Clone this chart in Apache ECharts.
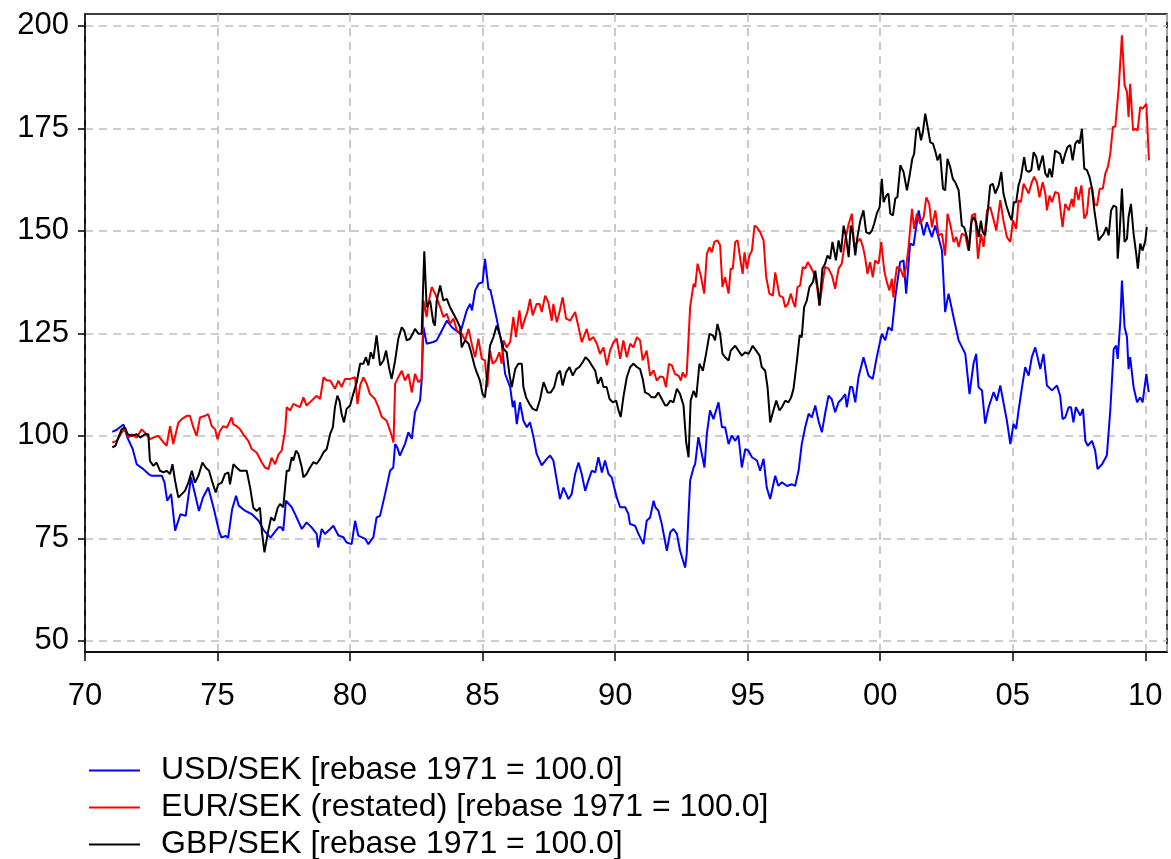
<!DOCTYPE html>
<html>
<head>
<meta charset="utf-8">
<script src="https://cdn.jsdelivr.net/npm/echarts@6/dist/echarts.min.js"></script>
<style>
html,body{margin:0;padding:0;background:#fff;}
#chart{width:1171px;height:859px;}
</style>
</head>
<body>
<div id="chart"></div>
<script>
// ---- data ----
const seriesNames = ["USD/SEK [rebase 1971 = 100.0]", "EUR/SEK (restated) [rebase 1971 = 100.0]", "GBP/SEK [rebase 1971 = 100.0]"];
const yTickValues = [50, 75, 100, 125, 150, 175, 200];

const usdYear = [1971.03,1971.2,1971.45,1971.6,1971.8,1971.95,1972.2,1972.4,1972.5,1972.9,1973.0,1973.1,1973.25,1973.4,1973.6,1973.8,1974.0,1974.3,1974.45,1974.65,1974.85,1975.05,1975.15,1975.3,1975.4,1975.55,1975.7,1975.8,1976.05,1976.3,1976.55,1976.75,1977.0,1977.2,1977.3,1977.4,1977.48,1977.58,1977.8,1977.92,1978.18,1978.36,1978.55,1978.74,1978.8,1978.93,1979.05,1979.25,1979.37,1979.56,1979.75,1979.87,1980.06,1980.19,1980.31,1980.57,1980.69,1980.88,1981.0,1981.13,1981.32,1981.51,1981.63,1981.7,1981.78,1981.88,1982.07,1982.2,1982.33,1982.45,1982.64,1982.7,1982.77,1982.89,1983.14,1983.27,1983.4,1983.65,1983.84,1984.15,1984.4,1984.53,1984.6,1984.72,1984.85,1985.0,1985.09,1985.22,1985.3,1985.41,1985.53,1985.72,1985.85,1986.04,1986.14,1986.2,1986.29,1986.41,1986.54,1986.67,1986.79,1986.92,1987.04,1987.23,1987.42,1987.55,1987.67,1987.8,1987.92,1988.05,1988.24,1988.36,1988.49,1988.62,1988.74,1988.87,1988.99,1989.12,1989.25,1989.37,1989.5,1989.62,1989.75,1989.87,1990.06,1990.19,1990.38,1990.5,1990.56,1990.75,1990.88,1991.07,1991.19,1991.32,1991.45,1991.52,1991.63,1991.76,1991.95,1992.08,1992.2,1992.33,1992.45,1992.58,1992.64,1992.7,1992.83,1992.96,1993.02,1993.14,1993.27,1993.37,1993.46,1993.58,1993.71,1993.9,1994.03,1994.15,1994.28,1994.4,1994.53,1994.65,1994.78,1994.91,1995.03,1995.16,1995.35,1995.47,1995.6,1995.72,1995.85,1996.04,1996.16,1996.29,1996.48,1996.67,1996.79,1996.92,1997.04,1997.17,1997.3,1997.42,1997.55,1997.67,1997.8,1997.92,1998.05,1998.17,1998.3,1998.43,1998.55,1998.68,1998.74,1998.87,1998.95,1999.06,1999.18,1999.37,1999.56,1999.72,1999.87,2000.06,2000.19,2000.31,2000.44,2000.57,2000.75,2000.88,2000.98,2001.13,2001.26,2001.32,2001.45,2001.54,2001.64,2001.76,2001.95,2002.08,2002.33,2002.45,2002.58,2002.77,2002.96,2003.21,2003.37,2003.52,2003.62,2003.71,2003.84,2003.96,2004.09,2004.28,2004.4,2004.53,2004.78,2004.91,2005.03,2005.13,2005.22,2005.35,2005.47,2005.6,2005.72,2005.85,2006.04,2006.16,2006.29,2006.48,2006.67,2006.79,2006.88,2006.98,2007.11,2007.2,2007.29,2007.38,2007.55,2007.65,2007.74,2007.83,2007.99,2008.11,2008.2,2008.37,2008.55,2008.68,2008.81,2008.9,2008.96,2009.06,2009.12,2009.22,2009.31,2009.37,2009.43,2009.56,2009.69,2009.81,2009.9,2010.04,2010.13];
const usdValue = [101,101.5,102.8,99.6,96.8,93.1,91.9,90.7,90.3,90.3,88.6,84.2,85.8,76.9,80.9,80.5,89.9,81.7,85,87.4,82.5,76.9,75.2,75.6,75.2,82.1,85.4,83,81.7,80.9,79.3,76.9,75.2,76.9,77.7,77.7,76.9,84.2,82.6,81,77.3,78.9,77.7,76.1,72.8,77.3,76.1,77.3,78.1,75.7,75.3,74,73.6,79.3,75.7,74.9,73.6,75.3,80.1,80.5,85.8,91.5,92.3,98,97.2,95.2,98,100.9,99.3,105.8,108.6,113.5,126.5,122.5,122.9,123.3,124.9,128.1,126.5,124.9,130.6,132.2,130.6,135.5,137.1,137.5,143.2,135.9,135.5,132.2,128.6,122.5,115.1,111.9,107,108.6,102.9,108.2,103.7,102.1,103.3,99.7,95.6,92.8,94.4,95.2,94,89.1,84.6,87.4,84.6,85.8,90.7,93.5,90.7,86.6,89.1,91.5,91.1,94.8,91.1,94,90.7,89.9,85,82.6,82.6,81,78.5,78.1,76.1,73.6,79.3,80.1,84.2,82.6,81.8,78.5,72,76.5,77.3,76.1,72,69.2,67.9,71.2,89.1,92.3,93.2,99.7,95.6,92.3,100.5,106.2,104.1,108.2,102.1,102.1,98,100.1,98.8,100.1,92.3,96.8,96.4,94.8,94,91.5,94.4,87.4,84.6,90.3,87.8,88.7,87.8,88.2,87.8,91.5,98,102.1,105.4,104.5,107.4,103.7,100.9,105.4,109.8,109,105.8,108.2,109,110.2,107,112,111.9,108.2,114.3,119.2,114.7,113.9,119.2,124.9,123.3,126.5,125.7,133.8,142.4,142.8,134.7,146.9,146.5,149.3,155,152.1,148.9,152.1,148.5,151.3,145.2,130.2,134.7,128.9,123.3,120,110.2,117.6,120,111.9,111.1,103,107,110.7,108.6,112.3,103.7,98,102.9,101.7,106.2,111.9,116.8,114.7,119.2,121.6,116.3,120,112.3,111.1,112.3,109.8,104.1,104.5,107,107,103.3,107,105,106.6,98.8,97.6,98.8,96.4,91.9,93.1,95.2,106.2,121.2,122,118.8,128.1,137.9,126.5,124.1,116.3,119.2,111.9,108.2,109.4,108.2,115.1,110.7];

const eurYear = [1971.03,1971.2,1971.38,1971.5,1971.64,1971.76,1971.95,1972.14,1972.26,1972.45,1972.58,1972.77,1972.96,1973.08,1973.21,1973.33,1973.52,1973.65,1973.84,1973.96,1974.09,1974.21,1974.34,1974.53,1974.65,1974.78,1974.91,1975.0,1975.09,1975.22,1975.35,1975.53,1975.6,1975.72,1975.85,1975.97,1976.16,1976.29,1976.48,1976.67,1976.79,1976.92,1977.04,1977.17,1977.3,1977.42,1977.48,1977.55,1977.61,1977.74,1977.86,1977.99,1978.11,1978.24,1978.36,1978.55,1978.74,1978.87,1979.0,1979.12,1979.25,1979.43,1979.56,1979.68,1979.81,1980.0,1980.19,1980.28,1980.38,1980.5,1980.63,1980.75,1980.94,1981.07,1981.2,1981.38,1981.51,1981.64,1981.7,1981.82,1981.95,1982.07,1982.2,1982.33,1982.45,1982.58,1982.7,1982.77,1982.89,1982.95,1983.08,1983.21,1983.4,1983.52,1983.65,1983.77,1983.9,1984.03,1984.21,1984.34,1984.47,1984.53,1984.62,1984.72,1984.84,1984.97,1985.09,1985.18,1985.28,1985.38,1985.51,1985.63,1985.72,1985.79,1985.91,1986.04,1986.16,1986.26,1986.39,1986.48,1986.6,1986.69,1986.79,1986.89,1987.04,1987.15,1987.23,1987.36,1987.48,1987.61,1987.67,1987.8,1987.9,1988.02,1988.15,1988.3,1988.49,1988.62,1988.74,1988.93,1989.03,1989.18,1989.31,1989.43,1989.56,1989.69,1989.81,1989.94,1990.06,1990.19,1990.31,1990.44,1990.57,1990.69,1990.82,1990.94,1991.04,1991.19,1991.32,1991.45,1991.57,1991.7,1991.82,1991.92,1992.03,1992.14,1992.26,1992.39,1992.48,1992.55,1992.64,1992.7,1992.83,1992.96,1993.02,1993.11,1993.23,1993.36,1993.46,1993.56,1993.65,1993.74,1993.86,1993.96,1994.05,1994.15,1994.2,1994.28,1994.36,1994.44,1994.53,1994.62,1994.72,1994.81,1994.88,1994.97,1995.07,1995.16,1995.26,1995.35,1995.47,1995.6,1995.7,1995.82,1995.95,1996.04,1996.12,1996.2,1996.33,1996.42,1996.52,1996.63,1996.7,1996.79,1996.88,1996.98,1997.08,1997.17,1997.27,1997.38,1997.51,1997.61,1997.71,1997.84,1997.92,1998.05,1998.18,1998.3,1998.43,1998.55,1998.68,1998.81,1998.93,1999.02,1999.12,1999.25,1999.35,1999.43,1999.52,1999.62,1999.72,1999.81,1999.94,2000.04,2000.15,2000.25,2000.35,2000.44,2000.5,2000.56,2000.63,2000.76,2000.88,2000.98,2001.07,2001.2,2001.28,2001.38,2001.51,2001.64,2001.74,2001.85,2001.95,2002.08,2002.2,2002.33,2002.45,2002.54,2002.64,2002.77,2002.87,2002.96,2003.08,2003.21,2003.33,2003.46,2003.58,2003.69,2003.8,2003.9,2004.03,2004.15,2004.25,2004.38,2004.53,2004.65,2004.78,2004.91,2005.01,2005.13,2005.22,2005.31,2005.41,2005.51,2005.6,2005.72,2005.81,2005.91,2006.01,2006.13,2006.23,2006.29,2006.39,2006.48,2006.6,2006.73,2006.88,2006.98,2007.11,2007.23,2007.29,2007.38,2007.48,2007.59,2007.65,2007.7,2007.8,2007.89,2007.99,2008.08,2008.18,2008.28,2008.4,2008.49,2008.59,2008.68,2008.78,2008.87,2009.0,2009.12,2009.22,2009.31,2009.37,2009.43,2009.54,2009.62,2009.71,2009.81,2009.9,2010.04,2010.14];
const eurValue = [98.4,98.8,100.8,101.6,99.6,100.4,99.6,101.6,100.8,99.2,99.6,100,98.4,97.6,102.4,98,103.2,104.1,104.9,104.9,102,100,104.5,104.9,105.3,102.4,101.6,99.2,101.2,102.4,102,104.5,102.8,102.4,101.6,100.4,98.8,96.8,95.9,93.5,92.3,91.9,94.7,93.1,95.5,96.4,96.4,101.3,107,106.2,107.8,107.4,107,109.4,107.4,108.6,109.8,109,114.3,113.5,113.5,111.5,113.5,111.9,113.9,113.9,114.3,107.8,112.3,114.3,112.7,110.2,109,107,104.6,103.7,101.3,98.4,112.7,114.3,115.9,113.5,115.1,110.6,115.1,113.1,113.9,133,129,132.2,136.3,134.7,131.4,129,129.8,127.3,128.6,125.7,124.9,123.3,126.1,125.7,121.6,119.2,123.7,118.8,118.4,111.9,120.8,117.6,118.4,120.4,117.6,123.3,121.6,122.9,129,124.1,130.6,126.1,128.6,130.2,133.4,129.4,132.2,132.2,130.2,134.2,132.6,128.1,132.2,127.7,130.2,133.8,128.6,128.1,130.2,126.5,122.9,126.1,123.3,124.1,122.5,120,121.6,117.2,120.8,122.9,123.7,118.8,123.3,119.2,122.5,121.6,124.1,123.3,118.4,120.8,114.7,116,113.5,114.5,114.3,111.9,117.6,117.2,115.1,114.7,113.5,115.5,114.3,115.1,131.4,137.1,136.3,142,139.1,134.7,144.4,146,144.8,147.3,147.7,146.5,136.3,138.7,138.7,134.7,140.8,140.8,147.3,147.7,143.2,139.5,144.8,140.8,144,145.2,151.3,150.9,149.7,147.7,138.7,134.7,134.2,139.9,137.1,134.2,133.8,131.4,132.2,134.7,133,131.4,136.3,136.7,141.2,140.8,142.4,141.2,139.5,136.7,131.8,137.9,141.2,140.8,139.1,135.9,140.8,142,147.7,151.7,154.2,146.1,147.3,148.1,146.1,143.6,139.5,142.4,138.7,142.8,142,147.3,140.4,137.5,135.5,138.3,133.8,137.9,141.2,140.8,138.7,141.2,146.1,155.4,150.5,154.2,151.7,153.4,158.2,156.6,150.9,155,148.9,149.3,144,154.2,151.7,147.3,148.5,146.1,149.3,148.9,145.2,153.8,154.2,143.2,149.3,146.1,155,155.8,153.4,150.1,157.5,152.5,148.5,147.3,152.6,150.5,157.5,157,161.5,160.3,159.1,161.9,163.2,161.9,158.2,161.9,159.1,155,158.6,157,159.5,159.1,150.9,156.6,155,157.8,155.8,160.7,157.5,161.1,161.1,153,154.2,160.3,160.7,156.6,156.2,160.3,160.3,163.9,165.6,168.8,175.4,175.4,185.1,197.7,185.5,183.9,177.8,185.9,174.5,174.9,174.5,180.2,179.8,181,167.2];

const gbpYear = [1971.03,1971.15,1971.26,1971.38,1971.51,1971.61,1971.76,1971.95,1972.08,1972.26,1972.39,1972.45,1972.58,1972.7,1972.83,1972.96,1973.08,1973.21,1973.3,1973.4,1973.52,1973.65,1973.77,1973.9,1974.03,1974.15,1974.28,1974.43,1974.55,1974.68,1974.81,1974.93,1975.03,1975.16,1975.28,1975.41,1975.47,1975.6,1975.72,1975.85,1975.97,1976.1,1976.23,1976.35,1976.48,1976.6,1976.67,1976.77,1976.89,1977.02,1977.14,1977.27,1977.36,1977.48,1977.55,1977.61,1977.7,1977.8,1977.86,1977.96,1978.05,1978.18,1978.24,1978.36,1978.49,1978.62,1978.74,1978.87,1979.0,1979.12,1979.25,1979.35,1979.43,1979.52,1979.6,1979.68,1979.77,1979.87,1980.0,1980.12,1980.25,1980.38,1980.5,1980.6,1980.69,1980.78,1980.88,1981.0,1981.13,1981.26,1981.36,1981.48,1981.57,1981.7,1981.82,1981.95,1982.04,1982.14,1982.26,1982.36,1982.45,1982.58,1982.7,1982.8,1982.89,1983.02,1983.14,1983.2,1983.27,1983.4,1983.52,1983.65,1983.77,1983.9,1984.03,1984.15,1984.21,1984.34,1984.47,1984.56,1984.7,1984.78,1984.9,1985.0,1985.09,1985.18,1985.28,1985.41,1985.53,1985.66,1985.79,1985.91,1986.01,1986.1,1986.23,1986.35,1986.48,1986.54,1986.64,1986.77,1986.89,1987.04,1987.17,1987.3,1987.45,1987.57,1987.7,1987.82,1987.92,1988.02,1988.15,1988.28,1988.4,1988.53,1988.65,1988.78,1988.88,1989.01,1989.12,1989.25,1989.35,1989.47,1989.56,1989.68,1989.79,1989.91,1990.04,1990.13,1990.21,1990.31,1990.44,1990.57,1990.69,1990.82,1990.94,1991.04,1991.13,1991.26,1991.38,1991.51,1991.63,1991.76,1991.89,1991.97,1992.08,1992.2,1992.33,1992.45,1992.58,1992.68,1992.77,1992.85,1992.96,1993.06,1993.18,1993.31,1993.43,1993.56,1993.69,1993.77,1993.86,1993.96,1994.05,1994.15,1994.28,1994.36,1994.53,1994.65,1994.78,1994.91,1995.03,1995.1,1995.19,1995.32,1995.45,1995.53,1995.66,1995.75,1995.85,1995.97,1996.08,1996.2,1996.29,1996.42,1996.54,1996.64,1996.73,1996.86,1996.96,1997.04,1997.13,1997.23,1997.33,1997.46,1997.55,1997.64,1997.71,1997.82,1997.92,1998.01,1998.11,1998.2,1998.33,1998.43,1998.52,1998.62,1998.72,1998.81,1998.89,1998.97,1999.06,1999.14,1999.25,1999.37,1999.47,1999.6,1999.69,1999.77,1999.87,1999.98,2000.06,2000.13,2000.23,2000.31,2000.38,2000.48,2000.57,2000.65,2000.76,2000.88,2001.01,2001.11,2001.21,2001.28,2001.36,2001.45,2001.54,2001.61,2001.7,2001.79,2001.89,2001.99,2002.09,2002.16,2002.26,2002.37,2002.45,2002.54,2002.64,2002.74,2002.83,2002.96,2003.08,2003.17,2003.27,2003.35,2003.44,2003.52,2003.62,2003.71,2003.8,2003.87,2003.96,2004.05,2004.15,2004.25,2004.34,2004.47,2004.57,2004.65,2004.76,2004.88,2004.96,2005.04,2005.13,2005.22,2005.31,2005.38,2005.43,2005.51,2005.6,2005.7,2005.79,2005.89,2005.98,2006.04,2006.13,2006.23,2006.32,2006.39,2006.48,2006.6,2006.69,2006.79,2006.88,2006.98,2007.07,2007.17,2007.26,2007.36,2007.45,2007.52,2007.61,2007.7,2007.8,2007.9,2007.99,2008.08,2008.18,2008.24,2008.33,2008.43,2008.53,2008.62,2008.71,2008.81,2008.91,2008.96,2009.03,2009.12,2009.22,2009.31,2009.37,2009.46,2009.56,2009.66,2009.72,2009.81,2009.9,2010.0,2010.06];
const gbpValue = [97.2,97.6,99.6,101.6,102,100.4,100,100.4,99.6,100.4,100.4,93.9,92.7,93.5,91.5,91.1,91.5,90.7,93.1,89,85,85.8,86.6,88.6,91.5,88.6,90.3,93.5,92.3,91.5,88.6,86.2,88.2,88.6,90.7,91.1,88.2,93.1,92.3,91.5,91.5,91.5,87.4,82.5,81.7,82.5,76.9,71.6,76.1,80.1,79.3,82.5,83.4,82.6,87.5,91.5,91.5,94.8,94,96.4,95.6,92.3,89.9,90.7,92.3,93.6,93.2,94.4,96,96.8,100.5,102.1,107,109.8,108.6,105.4,103.3,106.6,107.4,110.2,113.1,117.6,117.6,119.2,117.2,120.4,118.8,124.5,117.2,118.4,120.8,116.3,113.9,118.4,123.7,126.5,125.7,123.3,123.7,124.9,126.1,124.9,124.9,145,131.4,133,127.7,126.9,133,136.7,133,133.4,131.4,129.8,128.2,126.5,121.6,123.3,122.5,120.6,117,115.5,113.5,110.2,109.4,115.1,122,124.1,126.9,124.5,121.2,120.4,115.1,111.9,116.3,117.6,117.6,111.9,109.4,107.8,106.6,106.2,109,113.1,110.6,110.6,111.9,115.1,115.9,112.3,115.5,116.8,114.7,116.3,116.8,118,119.2,118.4,117.2,115.9,112.7,114.3,111.9,111.9,109,108.2,108.6,106.2,104.6,109.4,114.3,116.8,117.6,116.8,116.3,113.9,110.6,110.2,109.4,109.4,110.6,109,107.4,107.5,108.6,108.2,111.5,110.2,107.4,98.5,94.8,108.6,111,109.4,117.6,115.9,120,124.9,124.5,123.3,127.3,124.9,120,119.2,118.4,120.8,122,120.8,119.6,120.4,120,120.8,122,120.8,119.6,116.8,115.9,111.9,103.3,106.2,108.6,106.2,107,108.6,108.2,109.4,111.5,118.4,124.5,124.1,131.4,133,136.3,137.5,140.3,136.3,131.8,140.8,142,144,143.2,147.3,142.8,147.7,144.8,151.3,148.1,143.6,151.3,149.3,144,148.5,152.5,155,149.7,149.3,150.1,151.7,154.2,155.8,162.7,157,158.6,159.1,154.2,153.8,157.9,158.3,166,164.4,159.9,163.5,167.6,168.8,174.5,175.3,172.1,174.1,178.6,175.3,171.6,171.3,169.2,167.2,168.8,160.3,159.9,167.6,165.6,162.7,161.9,159.9,151.3,150.9,148.5,145.2,152.1,153.4,152.1,148.5,152.5,149.7,148.9,154.2,161.1,161.5,159.1,161.1,164.4,159.1,156.2,153.8,152.6,157,157,161.1,163.1,163.1,168,164.8,164.4,164.8,169.2,168,164.8,164.4,168.4,164,163.1,165.2,163.1,169.6,169.2,168.8,166.4,168.8,170.5,170.9,167.2,171.3,172.1,171.3,174.9,165.2,164.8,163.1,160.3,155,150.5,147.7,148.5,149.3,150.9,148.9,155,156.2,155.8,143.2,149.3,160.3,147.3,148.1,153.4,156.6,149.3,144.4,140.8,146.9,145.2,147.6,150.9];

// ---- chart ----
function zip(xs, ys) { return xs.map((x, i) => [x, ys[i]]); }
const FONT = '"Liberation Sans", Arial, sans-serif';
const chart = echarts.init(document.getElementById('chart'), null, {renderer: 'canvas'});
const colors = ['#0000ff', '#ff0000', '#000000'];
const mkSeries = (name, xs, ys, color) => ({
  name, type: 'line', data: zip(xs, ys), showSymbol: false, symbol: 'none',
  lineStyle: {color, width: 2}, itemStyle: {color}, animation: false, clip: true
});
const legendRowTop = [753, 790, 827];
const legends = seriesNames.map((n, i) => ({
  orient: 'horizontal', left: 89, top: legendRowTop[i], padding: 0,
  icon: 'rect', itemWidth: 51, itemHeight: 2,
  textStyle: {color: '#000', fontSize: 32, fontFamily: FONT, lineHeight: 35, padding: [0, 0, 0, 16]},
  data: [n]
}));
chart.setOption({
  animation: false,
  backgroundColor: '#fff',
  grid: {left: 85, top: 14, right: 4, bottom: 207, show: true, borderColor: '#000', borderWidth: 1.5, containLabel: false},
  xAxis: {
    type: 'value', min: 1970, max: 2010.82, interval: 5,
    axisLine: {show: true, lineStyle: {color: '#000', width: 1.5}},
    axisTick: {show: true, length: 9, lineStyle: {color: '#000', width: 1.5}},
    axisLabel: {color: '#000', fontSize: 31, fontFamily: FONT, margin: 29,
      formatter: v => String(Math.round(v) % 100).padStart(2, '0')},
    splitLine: {show: true, lineStyle: {color: '#bdbdbd', width: 1.6, type: [8, 6]}}
  },
  yAxis: {
    type: 'value', min: 47.3, max: 202.9,
    axisLine: {show: true, lineStyle: {color: '#000', width: 1.5}},
    axisTick: {show: true, length: 7, customValues: yTickValues, lineStyle: {color: '#000', width: 1.5}},
    axisLabel: {color: '#000', fontSize: 31, fontFamily: FONT, margin: 16, customValues: yTickValues},
    splitLine: {show: true, lineStyle: {color: '#bdbdbd', width: 1.6, type: [8, 6]}}
  },
  legend: legends,
  series: seriesNames.map((n, i) => mkSeries(n, [usdYear, eurYear, gbpYear][i], [usdValue, eurValue, gbpValue][i], colors[i]))
});
</script>
</body>
</html>
